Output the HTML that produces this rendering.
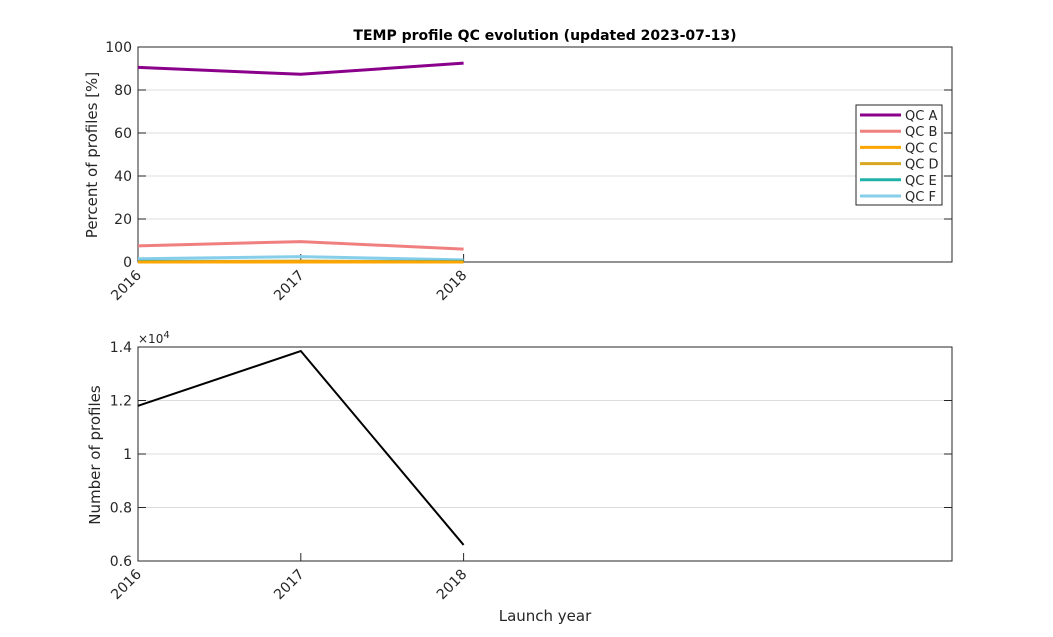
<!DOCTYPE html>
<html><head><meta charset="utf-8"><style>
body{margin:0;background:#fff;font-family:"Liberation Sans","DejaVu Sans",sans-serif}
svg text{font-family:"DejaVu Sans","Liberation Sans",sans-serif;fill:#262626}
</style></head><body>
<svg id="c" width="1053" height="632" xmlns="http://www.w3.org/2000/svg">
<rect width="1053" height="632" fill="#fff"/>
<text x="545" y="40" text-anchor="middle" font-size="14" font-weight="bold" style="fill:#000">TEMP profile QC evolution (updated 2023-07-13)</text>
<g id="topAx"></g>
<g id="botAx"></g>
</svg>
<script>
const years=[2016,2017,2018];
const qcNames=["QC A","QC B","QC C","QC D","QC E","QC F"];
const qcColors=["#8b008b","#f08080","#ffa500","#daa520","#20b2aa","#87ceeb"];
const qcA=[90.5,87.3,92.5];
const qcB=[7.5,9.5,6.0];
const qcC=[0,0,0];
const qcD=[0,0.4,0];
const qcE=[0.3,0.3,0.3];
const qcF=[1.5,2.5,1.0];
const counts=[11800,13850,6600];
const topTicks=[0,20,40,60,80,100];
const botTicks=[0.6,0.8,1,1.2,1.4];
const xTicks=[2016,2017,2018];

const NS="http://www.w3.org/2000/svg";
function mk(p,t,a){const e=document.createElementNS(NS,t);for(const k in a)e.setAttribute(k,a[k]);p.appendChild(e);return e;}
const X0=138,X1=952,xmin=2016,xmax=2021;
const xs=v=>X0+(v-xmin)/(xmax-xmin)*(X1-X0);

function axes(g,T,B,ticks,ymin,ymax,fmt){
  const ys=v=>B-(v-ymin)/(ymax-ymin)*(B-T);
  ticks.forEach(t=>{
    if(t!==ymin&&t!==ymax){const gl=mk(g,"line",{x1:X0,x2:X1,y1:ys(t),y2:ys(t),stroke:"#dcdcdc","stroke-width":1});
    
    }
    mk(g,"line",{x1:X0,x2:X0+8,y1:ys(t),y2:ys(t),stroke:"#262626"});
    mk(g,"line",{x1:X1,x2:X1-8,y1:ys(t),y2:ys(t),stroke:"#262626"});
    const tl=mk(g,"text",{x:X0-6,y:ys(t)+5,"text-anchor":"end","font-size":14});
    tl.textContent=fmt(t);
    
    
  });
  xTicks.forEach(t=>{
    mk(g,"line",{x1:xs(t),x2:xs(t),y1:B,y2:B-8,stroke:"#262626"});
    const tl=mk(g,"text",{x:xs(t)+4,y:B+14,"text-anchor":"end","font-size":14,transform:`rotate(-45 ${xs(t)+4} ${B+14})`});
    tl.textContent=t;
    
    
  });
  const fr=mk(g,"rect",{x:X0,y:T,width:X1-X0,height:B-T,fill:"none",stroke:"#262626","stroke-width":1});
  
  
  return ys;
}
const gTop=document.getElementById("topAx");
const ysT=axes(gTop,47,262,topTicks,0,100,v=>v);
const series=[qcA,qcB,qcC,qcD,qcE,qcF];
for(let i=series.length-1;i>=0;i--){
  const pl=mk(gTop,"polyline",{points:years.map((y,j)=>xs(y)+","+ysT(series[i][j])).join(" "),fill:"none",stroke:qcColors[i],"stroke-width":3});
  
  
}
const yl=mk(gTop,"text",{x:97,y:155,"text-anchor":"middle","font-size":15,transform:"rotate(-90 97 155)"});
yl.textContent="Percent of profiles [%]";


const lg=mk(gTop,"g",{});


mk(lg,"rect",{x:856,y:105,width:86,height:100,fill:"#fff",stroke:"#262626"});
qcNames.forEach((n,i)=>{
  const y=115+i*16.2;
  const e=mk(lg,"g",{});
  
  
  mk(e,"line",{x1:860,x2:901,y1:y,y2:y,stroke:qcColors[i],"stroke-width":3});
  const t=mk(e,"text",{x:905,y:y+5,"font-size":13});t.textContent=n;
});
const gBot=document.getElementById("botAx");
const ysB=axes(gBot,347,561,botTicks,0.6,1.4,v=>String(v));
const cl=mk(gBot,"polyline",{points:years.map((y,j)=>xs(y)+","+ysB(counts[j]/1e4)).join(" "),fill:"none",stroke:"#000","stroke-width":2});


const ex=mk(gBot,"text",{x:138,y:343,"font-size":12});ex.innerHTML='×10<tspan dy="-5" font-size="10">4</tspan>';


const yl2=mk(gBot,"text",{x:100,y:455,"text-anchor":"middle","font-size":15,transform:"rotate(-90 100 455)"});
yl2.textContent="Number of profiles";


const xl=mk(gBot,"text",{x:545,y:621,"text-anchor":"middle","font-size":15});
xl.textContent="Launch year";


</script>
</body></html>
